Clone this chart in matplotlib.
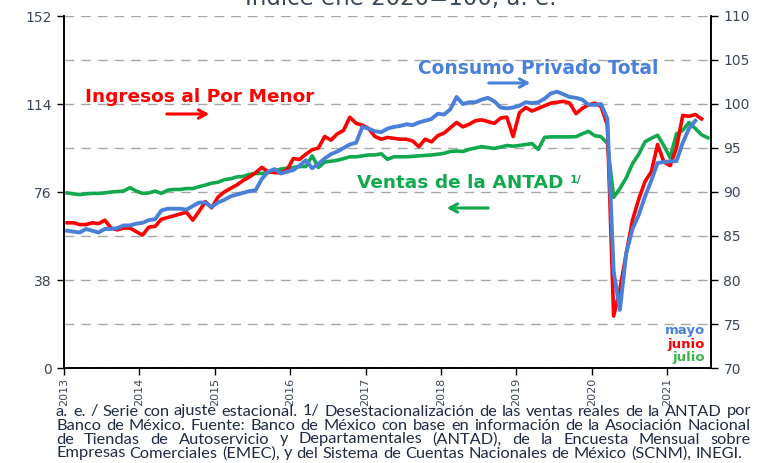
import matplotlib
matplotlib.use("Agg")
import matplotlib.pyplot as plt
import numpy as np

# ---------------- data (monthly, Jan 2013 onwards) ----------------
years = ["2013", "2014", "2015", "2016", "2017", "2018", "2019", "2020", "2021"]

# Consumo Privado Total (right axis), Jan 2013 - May 2021
consumo = [
    85.6, 85.5, 85.4, 85.8, 85.6, 85.4, 85.8, 85.8, 85.9, 86.2, 86.2, 86.4,
    86.5, 86.8, 86.9, 87.9, 88.1, 88.1, 88.1, 88.0, 88.4, 88.8, 88.8, 88.3,
    88.8, 89.1, 89.5, 89.7, 89.9, 90.1, 90.2, 91.5, 92.3, 92.6, 92.1, 92.3,
    92.5, 93.0, 93.6, 92.7, 93.2, 93.8, 94.3, 94.6, 95.0, 95.4, 95.6, 97.4,
    97.2, 96.9, 96.8, 97.2, 97.4, 97.5, 97.7, 97.6, 97.9, 98.1, 98.3, 98.9,
    98.8, 99.4, 100.8, 100.0, 100.2, 100.2, 100.5, 100.7, 100.3, 99.6, 99.5, 99.6,
    99.8, 100.2, 100.1, 100.2, 100.6, 101.2, 101.4, 101.1, 100.8, 100.7, 100.5, 99.9,
    99.9, 100.0, 98.3, 81.0, 76.6, 83.0, 85.8, 87.4, 89.5, 91.3, 93.3, 93.4,
    93.5, 93.5, 95.6, 97.2, 98.1,
]

# Ingresos al Por Menor (right axis), Jan 2013 - Jun 2021
ingresos = [
    86.5, 86.5, 86.3, 86.3, 86.5, 86.4, 86.8, 85.9, 85.7, 85.9, 85.9, 85.5,
    85.1, 86.0, 86.1, 86.9, 87.1, 87.3, 87.5, 87.7, 86.8, 87.8, 88.9, 88.2,
    89.4, 90.0, 90.4, 90.8, 91.3, 91.7, 92.2, 92.8, 92.3, 92.2, 92.2, 92.5,
    93.8, 93.7, 94.3, 94.8, 95.0, 96.3, 95.9, 96.6, 97.0, 98.5, 97.8, 97.6,
    97.2, 96.3, 96.0, 96.2, 96.1, 96.0, 96.0, 95.8, 95.15, 96.0, 95.7, 96.4,
    96.7, 97.3, 97.9, 97.4, 97.7, 98.1, 98.2, 98.0, 97.8, 98.4, 98.5, 96.3,
    99.0, 99.6, 99.2, 99.5, 99.8, 100.1, 100.2, 100.3, 100.1, 98.9, 99.5, 99.9,
    100.1, 99.7, 97.6, 75.9, 79.0, 83.0, 86.8, 89.2, 91.2, 92.3, 95.4, 93.4,
    93.0, 95.0, 98.7, 98.6, 98.8, 98.3,
]

# Ventas de la ANTAD (left axis), Jan 2013 - Jul 2021
antad = [
    75.6, 75.2, 74.9, 75.2, 75.4, 75.4, 75.6, 76.0, 76.2, 76.4, 77.9, 76.4,
    75.4, 75.6, 76.4, 75.4, 76.8, 77.1, 77.1, 77.5, 77.5, 78.3, 79.0, 79.8,
    80.2, 81.3, 81.7, 82.5, 82.7, 83.6, 84.0, 84.0, 84.4, 85.1, 85.9, 86.3,
    86.6, 87.0, 87.0, 91.6, 86.6, 88.9, 89.3, 89.7, 90.4, 91.2, 91.2, 91.6,
    92.0, 92.0, 92.5, 90.1, 91.2, 91.2, 91.2, 91.4, 91.6, 91.8, 92.0, 92.3,
    92.7, 93.5, 93.7, 93.5, 94.4, 95.0, 95.6, 95.2, 94.8, 95.4, 96.1, 95.8,
    96.1, 96.5, 96.9, 94.4, 99.6, 99.8, 99.8, 99.8, 99.8, 99.9, 101.1, 102.2,
    100.3, 99.9, 97.0, 73.7, 77.5, 82.1, 88.2, 92.3, 97.7, 99.2, 100.5, 96.0,
    90.8, 101.1, 102.6, 106.0, 103.4, 100.7, 99.4,
]

left_ticks = [0, 38, 76, 114, 152]
right_ticks = [70, 75, 80, 85, 90, 95, 100, 105, 110]

title = "Índice ene 2020=100, a. e."
note_lines = [
    "a. e. / Serie con ajuste estacional. 1/ Desestacionalización de las ventas reales de la ANTAD por",
    "Banco de México. Fuente: Banco de México con base en información de la Asociación Nacional",
    "de Tiendas de Autoservicio y Departamentales (ANTAD), de la Encuesta Mensual sobre",
    "Empresas Comerciales (EMEC), y del Sistema de Cuentas Nacionales de México (SCNM), INEGI.",
]

# ---------------- styling ----------------
W, H = 768, 463
C_BLUE = "#4A80D8"
C_RED = "#FF0000"
C_GREEN = "#12A84E"
C_TXT = "#3A475A"
C_GRID = "#A8A8A8"

plt.rcParams["font.family"] = ["DejaVu Sans"]

fig = plt.figure(figsize=(W / 100, H / 100), dpi=100)
fig.patch.set_facecolor("white")


def fx(x):
    return x / W


def fy(y):
    return 1 - y / H


ax_l, ax_r, ax_t, ax_b = 64, 711, 16, 368
ax = fig.add_axes([fx(ax_l), fy(ax_b), (ax_r - ax_l) / W, (ax_b - ax_t) / H])
ax2 = ax.twinx()

n_months = 103
ax.set_xlim(0, n_months)
ax.set_ylim(0, 152)
ax2.set_ylim(70, 110)

# gridlines (dashed) at every right-axis level
ax.set_yticks(left_ticks)
ax.set_yticks([19, 57, 95, 133], minor=True)
ax.yaxis.grid(True, which="both", linestyle=(0, (7, 5)), color=C_GRID, linewidth=1.0)
ax.set_axisbelow(True)

# series (category axis: each month centred in its slot)
x_g = np.arange(len(antad)) + 0.5
x_r = np.arange(len(ingresos)) + 0.5
x_b = np.arange(len(consumo)) + 0.5
ax.plot(x_g, antad, color=C_GREEN, lw=2.6, solid_joinstyle="round", zorder=3)
ax2.plot(x_r, ingresos, color=C_RED, lw=2.6, solid_joinstyle="round", zorder=3)
ax2.plot(x_b, consumo, color=C_BLUE, lw=2.8, solid_joinstyle="round", zorder=4)

# axes styling
for a in (ax, ax2):
    a.spines["top"].set_visible(False)
    for s in ("left", "right", "bottom"):
        a.spines[s].set_color("black")
        a.spines[s].set_linewidth(1.2)

ax.set_xticks([12 * i for i in range(len(years))])
ax.set_xticklabels(years, rotation=90, fontsize=8.0, color=C_TXT)
ax.tick_params(axis="x", direction="out", length=5, width=1, color="black", pad=2)
ax.tick_params(axis="y", which="major", direction="out", length=5, width=1,
               color="black", labelsize=10, labelcolor=C_TXT, pad=4)
ax.tick_params(axis="y", which="minor", length=0)
ax2.set_yticks(right_ticks)
ax2.tick_params(axis="y", direction="out", length=5, width=1, color="black",
                labelsize=10, labelcolor=C_TXT, pad=4)

# ---------------- texts ----------------
fig.text(fx(401), fy(5.5), title, ha="center", va="baseline", fontsize=16.5, color=C_TXT)

fig.text(fx(85), fy(97), "Ingresos al Por Menor", ha="left", va="center",
         fontsize=13.3, fontweight="bold", color=C_RED)
fig.text(fx(418), fy(69), "Consumo Privado Total", ha="left", va="center",
         fontsize=13.4, fontweight="bold", color=C_BLUE)
t_v = fig.text(fx(357), fy(183), "Ventas de la ANTAD", ha="left", va="center",
               fontsize=13.3, fontweight="bold", color=C_GREEN)

arrow_kw = dict(arrowstyle="->,head_length=0.55,head_width=0.3", lw=2.2)
ax.annotate("", xy=(212, H - 114), xytext=(164, H - 114), xycoords="figure pixels",
            textcoords="figure pixels", arrowprops=dict(color=C_RED, **arrow_kw))
ax.annotate("", xy=(533, H - 83), xytext=(486, H - 83), xycoords="figure pixels",
            textcoords="figure pixels", arrowprops=dict(color=C_BLUE, **arrow_kw))
ax.annotate("", xy=(444, H - 208), xytext=(491, H - 208), xycoords="figure pixels",
            textcoords="figure pixels", arrowprops=dict(color=C_GREEN, **arrow_kw))

fig.text(fx(705), fy(334), "mayo", ha="right", va="baseline", fontsize=9.5,
         fontweight="bold", color=C_BLUE)
fig.text(fx(705), fy(348), "junio", ha="right", va="baseline", fontsize=9.5,
         fontweight="bold", color=C_RED)
fig.text(fx(705), fy(361), "julio", ha="right", va="baseline", fontsize=9.5,
         fontweight="bold", color="#3DB54A")

fig.canvas.draw()
renderer = fig.canvas.get_renderer()

# superscript "1/" after the ANTAD label
bb = t_v.get_window_extent(renderer)
fig.text((bb.x1 + 6) / W, (bb.y1 - 6) / H, "1/", ha="left", va="center",
         fontsize=8, fontweight="bold", color=C_GREEN)

# ---------------- justified footnote ----------------
NOTE_FONT = ["Lato", "DejaVu Sans"]
NOTE_COLOR = "#1F2B45"
left_px, right_px = 56, 751
baselines = [415.5, 429.5, 443.5, 457.5]


def width_of(s, fs):
    t = fig.text(0, 0, s, fontsize=fs, family=NOTE_FONT)
    w = t.get_window_extent(renderer).width
    t.remove()
    return w


base_fs = 10.0
target = right_px - left_px
fs = min(base_fs * (target - 8) / width_of(note_lines[0], base_fs),
         base_fs * (target - 8) / width_of(note_lines[1], base_fs),
         base_fs * (target - 8) / width_of(note_lines[2], base_fs))
space_w = width_of("a b", fs) - width_of("ab", fs)

for i, line in enumerate(note_lines):
    words = line.split(" ")
    widths = [width_of(w, fs) for w in words]
    if i < len(note_lines) - 1:
        gap = (target - sum(widths)) / (len(words) - 1)
    else:
        gap = space_w
    x = left_px
    for w, wd in zip(words, widths):
        fig.text(x / W, fy(baselines[i]), w, ha="left", va="baseline", fontsize=fs,
                 family=NOTE_FONT, color=NOTE_COLOR)
        x += wd + gap

fig.savefig("out.png", dpi=100, facecolor="white")
